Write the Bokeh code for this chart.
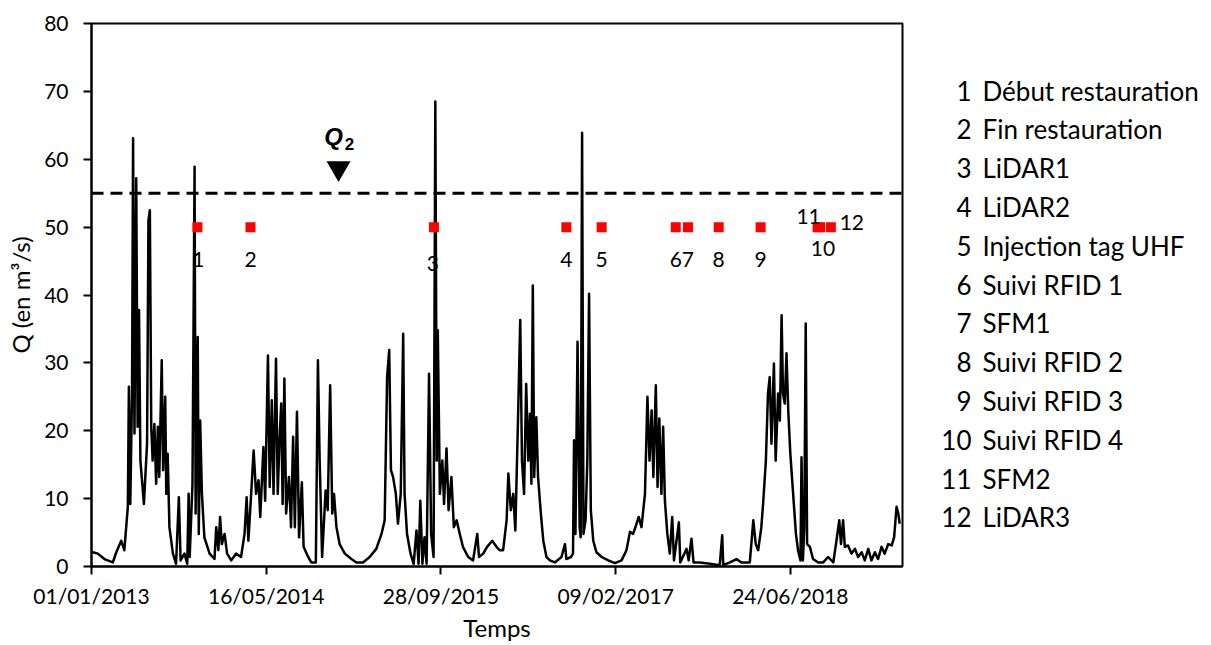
import pandas as pd
from bokeh.plotting import figure
from bokeh.layouts import row
from bokeh.models import (FixedTicker, DatetimeTickFormatter, Span, Label,
                          ColumnDataSource, Range1d)
from bokeh.core.properties import value
from bokeh.embed import file_html
from bokeh.resources import INLINE

# ---------------- data ----------------
start_date = "2013-01-01"
end_date = "2019-05-11"

# days since 01/01/2013 and daily discharge Q (m3/s)
day_offsets = [
    0, 4, 18, 37, 61, 71, 85, 94, 104, 107, 111, 116, 119, 123, 128, 132, 136, 140, 150, 159,
    163, 167, 171, 175, 180, 185, 190, 194, 201, 205, 211, 214, 218, 223, 233, 242, 250, 255,
    266, 274, 278, 281, 289, 295, 298, 304, 307, 311, 316, 323, 338, 352, 357, 363, 368, 373,
    381, 388, 400, 414, 428, 438, 444, 449, 457, 464, 471, 478, 483, 492, 497, 505, 510, 516,
    521, 528, 533, 538, 543, 547, 552, 557, 565, 571, 577, 582, 588, 594, 602, 607, 620, 629,
    642, 648, 653, 660, 670, 676, 683, 689, 694, 701, 710, 725, 744, 758, 777, 796, 815, 830,
    839, 846, 852, 857, 863, 871, 877, 885, 892, 896, 903, 913, 922, 930, 936, 941, 947, 953,
    959, 966, 972, 979, 984, 988, 991, 997, 1004, 1009, 1016, 1022, 1030, 1037, 1045, 1054,
    1063, 1078, 1092, 1104, 1109, 1121, 1132, 1147, 1159, 1168, 1178, 1188, 1193, 1200, 1207,
    1213, 1221, 1227, 1232, 1238, 1244, 1250, 1255, 1259, 1263, 1267, 1273, 1278, 1286, 1293,
    1302, 1312, 1326, 1345, 1355, 1359, 1372, 1378, 1381, 1385, 1391, 1397, 1400, 1404, 1408,
    1414, 1419, 1424, 1429, 1436, 1445, 1460, 1479, 1498, 1517, 1531, 1541, 1550, 1560, 1566,
    1574, 1584, 1591, 1597, 1603, 1608, 1615, 1620, 1625, 1631, 1636, 1641, 1648, 1655, 1662,
    1667, 1681, 1685, 1703, 1709, 1717, 1723, 1741, 1770, 1798, 1805, 1808, 1827, 1846, 1860,
    1884, 1894, 1901, 1908, 1917, 1922, 1930, 1936, 1941, 1946, 1953, 1958, 1965, 1970, 1975,
    1979, 1984, 1989, 1994, 2000, 2008, 2016, 2022, 2029, 2032, 2036, 2040, 2044, 2048, 2056,
    2065, 2080, 2094, 2108, 2123, 2132, 2140, 2145, 2151, 2156, 2165, 2175, 2185, 2194, 2204,
    2213, 2223, 2232, 2242, 2251, 2261, 2270, 2280, 2290, 2297, 2304, 2309, 2313,
]
discharge = [
    2.2, 2.1, 1.9, 1.1, 0.6, 2.1, 3.8, 2.4, 8.8, 26.5, 9.2, 25.5, 63.1, 19.6, 57.2, 20.6, 37.8, 15.6, 9.2, 18.1,
    51.0, 52.5, 20.6, 15.6, 21.0, 12.2, 20.6, 13.2, 30.4, 14.2, 25.0, 10.7, 16.6, 5.8, 1.9, 0.4, 10.2, 0.9,
    1.9, 0.4, 10.7, 1.4, 12.2, 58.9, 7.8, 33.8, 4.8, 21.5, 10.7, 4.3, 1.9, 1.1, 5.8, 2.4, 7.3, 3.3,
    4.8, 1.9, 0.9, 1.9, 1.4, 4.8, 10.2, 3.8, 10.7, 17.1, 10.7, 12.7, 7.3, 17.6, 9.7, 31.1, 11.7, 24.5,
    10.7, 30.6, 10.7, 18.6, 24.0, 9.2, 27.7, 7.8, 13.2, 5.8, 19.1, 5.8, 22.8, 4.3, 12.4, 2.9, 1.4, 0.6,
    0.6, 30.4, 15.6, 1.4, 11.2, 8.3, 26.7, 7.8, 10.7, 5.8, 3.3, 1.9, 1.1, 0.6, 0.6, 1.4, 2.6, 4.8,
    6.8, 27.9, 31.9, 14.2, 13.2, 10.7, 6.3, 10.7, 34.3, 10.7, 4.8, 1.9, 0.4, 5.3, 0.4, 9.7, 0.4, 4.3,
    0.4, 28.4, 4.8, 1.4, 68.5, 15.6, 34.8, 10.7, 15.6, 9.2, 17.4, 8.3, 13.2, 5.8, 6.8, 4.8,
    2.9, 1.4, 0.9, 4.8, 1.4, 1.9, 2.9, 3.8, 2.9, 2.4, 2.4, 6.8, 13.7, 8.3, 10.7,
    5.3, 22.5, 36.3, 15.6, 10.7, 26.9, 15.6, 22.5, 12.2, 41.4, 13.2, 22.0, 13.2, 7.8, 3.8,
    1.4, 0.9, 0.6, 1.4, 3.3, 1.1, 1.4, 1.9, 18.6, 4.8, 33.1, 5.8, 4.3, 63.9, 4.8,
    6.8, 15.6, 40.2, 8.3, 3.8, 2.1, 1.4, 0.9, 0.5, 0.9, 2.4, 5.1, 4.8, 6.3, 7.3,
    5.8, 10.7, 25.0, 15.6, 23.0, 13.2, 26.7, 11.7, 21.8, 10.7, 20.6, 9.7, 4.8, 1.9, 7.3,
    0.9, 6.5, 0.6, 2.6, 0.9, 4.1, 0.6, 0.6, 0.4, 0.2, 4.6, 0.2, 0.6, 1.1, 0.6,
    0.6, 6.8, 3.3, 2.4, 5.8, 9.2, 15.6, 25.5, 27.9, 18.1, 29.9, 15.6, 25.5, 21.5, 37.0,
    25.5, 24.0, 31.4, 23.0, 16.6, 10.7, 4.8, 2.4, 0.9, 16.1, 0.9, 5.8, 35.8, 3.3, 2.9,
    1.1, 0.6, 0.6, 1.4, 0.6, 3.8, 6.8, 3.3, 6.8, 2.9, 3.1, 1.9, 2.6, 1.4, 2.1,
    0.9, 2.6, 0.9, 2.1, 1.1, 2.9, 1.9, 3.3, 3.1, 4.3, 8.8, 7.8, 6.3,
]

event_ids = ["1", "2", "3", "4", "5", "6", "7", "8", "9", "10", "11", "12"]
event_names = ["Début restauration", "Fin restauration", "LiDAR1", "LiDAR2",
               "Injection tag UHF", "Suivi RFID 1", "SFM1", "Suivi RFID 2",
               "Suivi RFID 3", "Suivi RFID 4", "SFM2", "LiDAR3"]
event_days = [303, 455, 980, 1359, 1460, 1672, 1707, 1795, 1915, 2085, 2078, 2116]
event_level = [50] * 12

q2_value = 55
q2_day = 707

tick_labels = ["01/01/2013", "16/05/2014", "28/09/2015", "09/02/2017", "24/06/2018"]
y_ticks = [0, 10, 20, 30, 40, 50, 60, 70, 80]

# ---------------- styles / layout ----------------
FONT = "Lato"
W_TOTAL, H = 1211, 645
W1 = 906
BL, BR, BT, BB = 91, 4, 23, 79
label_dx = [1, 0, -1, 0, 0, 0, 0, 0, 0, 3, -9, 21]
label_dy = [32, 32, 36, 32, 32, 32, 32, 32, 32, 21, -11, -5]

t0 = pd.Timestamp(start_date)
t_end = pd.Timestamp(end_date)
to_ms = lambda t: t.value / 1e6

dates = [t0 + pd.Timedelta(days=d) for d in day_offsets]
ev_dates = [t0 + pd.Timedelta(days=d) for d in event_days]

p = figure(width=W1, height=H, x_axis_type="datetime", output_backend="svg",
           toolbar_location=None, min_border_left=BL, min_border_right=BR,
           min_border_top=BT, min_border_bottom=BB,
           x_range=Range1d(to_ms(t0), to_ms(t_end)), y_range=Range1d(0, 80))
p.background_fill_color = "white"
p.border_fill_color = "white"
p.outline_line_color = "black"
p.outline_line_width = 2
p.xgrid.visible = False
p.ygrid.visible = False

# hydrograph
p.line(dates, discharge, line_color="black", line_width=2.5, line_join="round")

# Q2 dashed line
p.add_layout(Span(location=q2_value, dimension="width", line_color="black",
                  line_width=3, line_dash="12 7"))

# events
src = ColumnDataSource(dict(x=ev_dates, y=event_level, t=event_ids,
                            dx=label_dx, dy=label_dy))
p.scatter("x", "y", source=src, marker="square", size=10, fill_color="#ff0000",
          line_color=None)
p.text("x", "y", text="t", source=src, x_offset="dx", y_offset="dy",
       text_align="center", text_baseline="middle", text_font=value(FONT),
       text_font_size="21px", text_color="black")

# Q2 annotation
ppu = (H - BT - BB) / 80.0
ppd = (W1 - BL - BR) / (t_end - t0).days
q2_x = t0 + pd.Timedelta(days=q2_day)
p.scatter([q2_x], [q2_value + 25 / ppu], marker="inverted_triangle", size=24,
          fill_color="black", line_color=None)
p.add_layout(Label(x=to_ms(q2_x - pd.Timedelta(days=5 / ppd)), y=q2_value + 57 / ppu,
                   text="Q", text_font="Liberation Sans", text_font_size="24px",
                   text_font_style="bold italic", text_align="center",
                   text_baseline="middle", text_color="black"))
p.add_layout(Label(x=to_ms(q2_x + pd.Timedelta(days=11 / ppd)), y=q2_value + 49 / ppu,
                   text="2", text_font="Liberation Sans", text_font_size="17px",
                   text_font_style="bold", text_align="center",
                   text_baseline="middle", text_color="black"))

# axes
tick_dates = [pd.to_datetime(s, format="%d/%m/%Y") for s in tick_labels]
p.xaxis.ticker = FixedTicker(ticks=[to_ms(t) for t in tick_dates])
fmt = "%d/%m/%Y"
p.xaxis.formatter = DatetimeTickFormatter(
    microseconds=fmt, milliseconds=fmt, seconds=fmt, minsec=fmt, minutes=fmt,
    hourmin=fmt, hours=fmt, days=fmt, months=fmt, years=fmt)
p.yaxis.ticker = FixedTicker(ticks=y_ticks)

for ax in (p.xaxis[0], p.yaxis[0]):
    ax.axis_line_color = "black"
    ax.axis_line_width = 2
    ax.major_tick_line_color = "black"
    ax.major_tick_line_width = 2
    ax.major_tick_in = 0
    ax.major_tick_out = 8
    ax.minor_tick_line_color = None
    ax.major_label_text_font = FONT
    ax.major_label_text_font_size = "21px"
    ax.major_label_text_color = "black"
    ax.axis_label_text_font = FONT
    ax.axis_label_text_font_size = "24px"
    ax.axis_label_text_font_style = "normal"
    ax.axis_label_text_color = "black"

p.xaxis.axis_label = "Temps"
p.yaxis.axis_label = "Q (en m³/s)"
p.yaxis.major_label_standoff = 15
p.yaxis.axis_label_standoff = 6
p.xaxis.major_label_standoff = 8
p.xaxis.axis_label_standoff = 2

# side list of events (separate panel to the right of the chart)
W2 = W_TOTAL - W1
q = figure(width=W2, height=H, output_backend="svg", toolbar_location=None,
           x_range=Range1d(0, W2), y_range=Range1d(H - BB, BT),
           min_border_left=0, min_border_right=0, min_border_top=BT,
           min_border_bottom=BB, x_axis_location=None, y_axis_location=None)
q.outline_line_color = None
q.xgrid.visible = False
q.ygrid.visible = False
rows_y = [90 + 38.8 * i for i in range(len(event_ids))]
lsrc = ColumnDataSource(dict(y=rows_y, k=event_ids, n=event_names,
                             xk=[65] * len(event_ids), xn=[76] * len(event_ids)))
q.text("xk", "y", text="k", source=lsrc, text_align="right", text_baseline="middle",
       text_font=value(FONT), text_font_size="26px", text_color="black")
q.text("xn", "y", text="n", source=lsrc, text_align="left", text_baseline="middle",
       text_font=value(FONT), text_font_size="26px", text_color="black")

layout = row(p, q, spacing=0)
open("out.html", "w").write(file_html(layout, INLINE))
